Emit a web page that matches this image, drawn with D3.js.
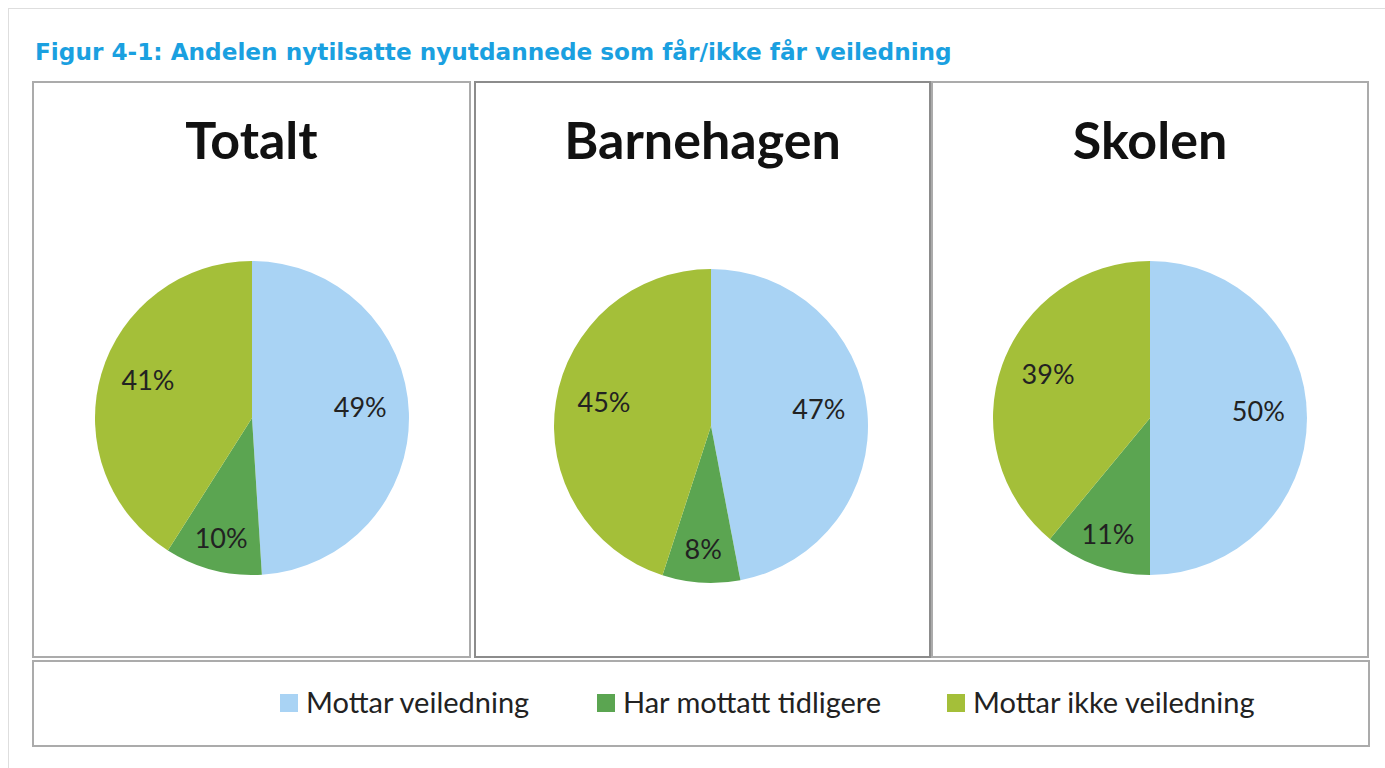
<!DOCTYPE html>
<html>
<head>
<meta charset="utf-8">
<script src="https://cdn.jsdelivr.net/npm/d3@7"></script>
<style>
  body { margin: 0; background: #fff; }
  svg { display: block; }
</style>
</head>
<body>
<div id="chart"></div>
<script>
var width = 1385,
	height = 768;

var figTitle = 'Figur 4-1: Andelen nytilsatte nyutdannede som får/ikke får veiledning';
var panels = ['Totalt', 'Barnehagen', 'Skolen'];
var categories = ['Mottar veiledning', 'Har mottatt tidligere', 'Mottar ikke veiledning'];
var totalt = [49, 10, 41],
	barnehagen = [47, 8, 45],
	skolen = [50, 11, 39];
var series = [totalt, barnehagen, skolen];

var colors = d3.scaleOrdinal()
	.domain(categories)
	.range(['#a9d3f4', '#5ba551', '#a4bf39']);

var svg = d3.select('#chart')
	.append('svg')
	.attr('width', width)
	.attr('height', height);

// page frame
svg.append('rect')
	.attr('x', 8.5).attr('y', 8.5)
	.attr('width', width).attr('height', height)
	.attr('fill', 'none')
	.attr('stroke', '#dedede')
	.attr('stroke-width', 1);

svg.append('text')
	.attr('x', 35)
	.attr('y', 60)
	.attr('fill', '#1aa0e0')
	.attr('font-family', 'DejaVu Sans')
	.attr('font-weight', 'bold')
	.attr('font-size', 23.2)
	.text(figTitle);

// panel boxes
var panelLeft = [33, 475, 932],
	panelRight = [470, 930, 1368];
var panelTop = 82, panelBottom = 657;

svg.selectAll('.panel')
	.data(panels)
	.enter().append('rect')
	.attr('class', 'panel')
	.attr('x', function(d, i) { return panelLeft[i]; })
	.attr('y', panelTop)
	.attr('width', function(d, i) { return panelRight[i] - panelLeft[i]; })
	.attr('height', panelBottom - panelTop)
	.attr('fill', 'none')
	.attr('stroke', function(d, i) { return i == 1 ? '#8c8c8c' : '#ababab'; })
	.attr('stroke-width', 2);

var pie = d3.pie()
	.sort(null)
	.value(function(d) { return d; });

var radius = 157;
var arc = d3.arc().innerRadius(0).outerRadius(radius);
// small slices get their label further out, like the bestfit placement
function labelPos(d) {
	var r = radius * (d.data < 15 ? 0.79 : 0.69);
	return d3.arc().innerRadius(r).outerRadius(r).centroid(d);
}
var pieX = [252, 711, 1150],
	pieY = [418, 426, 418];

panels.forEach(function(name, i) {
	var g = svg.append('g')
		.attr('transform', 'translate(' + pieX[i] + ',' + pieY[i] + ')');

	svg.append('text')
		.attr('x', (panelLeft[i] + panelRight[i]) / 2)
		.attr('y', 159)
		.attr('text-anchor', 'middle')
		.attr('font-family', 'Lato')
		.attr('font-weight', 'bold')
		.attr('font-size', 52)
		.attr('fill', '#111')
		.text(name);

	var arcs = pie(series[i]);
	g.selectAll('path')
		.data(arcs)
		.enter().append('path')
		.attr('d', arc)
		.attr('fill', function(d, j) { return colors(categories[j]); });

	g.selectAll('text')
		.data(arcs)
		.enter().append('text')
		.attr('transform', function(d) { return 'translate(' + labelPos(d) + ')'; })
		.attr('text-anchor', 'middle')
		.attr('dy', function(d) { return d.data < 15 ? '0.35em' : '0.1em'; })
		.attr('font-family', 'Lato')
		.attr('font-size', 27)
		.attr('fill', '#222')
		.text(function(d) { return d.data + '%'; });
});

// legend
svg.append('rect')
	.attr('x', 33).attr('y', 661)
	.attr('width', 1336).attr('height', 85)
	.attr('fill', 'none')
	.attr('stroke', '#ababab')
	.attr('stroke-width', 2);

var legendX = [280, 597, 947];
var lg = svg.selectAll('.legend')
	.data(categories)
	.enter().append('g')
	.attr('class', 'legend')
	.attr('transform', function(d, i) { return 'translate(' + legendX[i] + ',694)'; });

lg.append('rect')
	.attr('width', 18).attr('height', 18)
	.attr('fill', function(d) { return colors(d); });

lg.append('text')
	.attr('x', 26)
	.attr('y', 19)
	.attr('font-family', 'Lato')
	.attr('font-size', 29)
	.attr('fill', '#222')
	.text(function(d) { return d; });
</script>
</body>
</html>
